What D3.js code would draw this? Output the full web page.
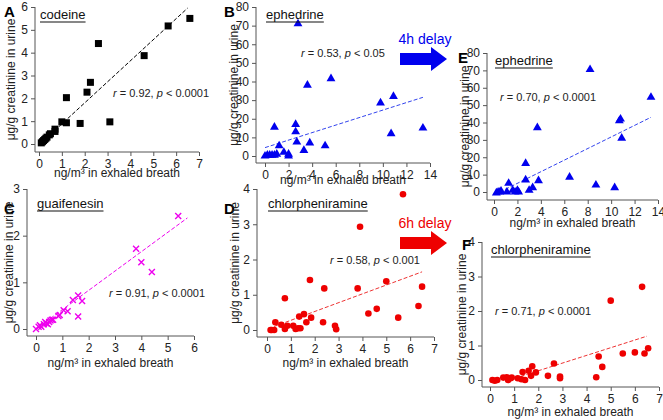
<!DOCTYPE html>
<html lang="en">
<head>
  <meta charset="UTF-8">
  <title>Exhaled breath vs urine</title>
  <script src="https://d3js.org/d3.v7.min.js"></script>
  <style>
    body { margin: 0; background: #fff; }
    text { font-family: "Liberation Sans", Arial, sans-serif; }
    .tick text { font-size: 12px; fill: #222; }
    .domain, .tick line { stroke: #555; }
  </style>
</head>
<body>
  <svg width="663" height="420"></svg>
  <script>
    // data: [x, y]
    const codeine = [[0.1,0.05],[0.15,0.1],[0.2,0.15],[0.25,0.2],[0.3,0.25],[0.35,0.3],[0.45,0.4],[0.5,0.45],
      [0.7,0.55],[0.7,0.65],[1.0,0.97],[1.2,0.93],[1.2,2.03],[1.8,0.9],[2.1,2.27],[2.25,2.7],[2.6,4.4],
      [3.1,0.97],[4.6,3.87],[5.65,5.17],[6.6,5.5]];
    const ephedrine4 = [[0,0],[0.2,0.5],[0.4,0.5],[0.6,0.5],[0.8,0.5],[1,1],[0.8,15.5],[1.2,5.5],[1.6,2],[2,1],
      [2,0],[2.6,17],[2.6,13],[2.7,7.5],[2.8,71],[3.3,3],[3.6,38],[3.8,7],[5.1,5.5],[5.6,41.5],[9.8,28.5],
      [10.7,12],[10.9,32],[13.4,15]];
    const ephedrineDelay = [[0.2,-0.5],[0.35,0],[0.5,0],[0.6,0.5],[1.1,0],[1.25,5],[1.6,1],[1.8,0],[2,1],[2.1,0],
      [2.7,16.5],[2.7,7],[3,1],[3.3,2.5],[3.7,37],[3.8,6.5],[6.45,8.5],[8.2,70.5],[8.7,4],[10.3,2.5],
      [10.7,41],[10.8,42],[10.9,31],[13.4,54.5]];
    const guaifenesin = [[0,0],[0.1,0.05],[0.15,0.08],[0.2,0.05],[0.3,0.1],[0.35,0.15],[0.4,0.12],[0.45,0.1],
      [0.5,0.15],[0.55,0.18],[0.6,0.2],[0.65,0.2],[0.85,0.28],[0.9,0.3],[1.05,0.4],[1.2,0.38],[1.4,0.62],
      [1.6,0.27],[1.6,0.72],[1.75,0.6],[3.8,1.72],[4.0,1.43],[4.4,1.22],[5.4,2.42]];
    const chlor6 = [[0.15,0],[0.2,0],[0.3,0],[0.35,0.22],[0.6,0.15],[0.75,0.03],[0.75,0.9],[0.85,0.12],[1.1,0.12],
      [1.2,0.03],[1.3,0.05],[1.35,0.38],[1.4,0.05],[1.55,0.45],[1.65,0.22],[1.8,1.42],[1.85,0.35],[2.35,0.22],
      [2.4,1.18],[2.85,0.12],[2.9,0.02],[3.8,1.18],[3.9,2.93],[4.25,0.47],[4.6,0.6],[5,1.38],[5.5,0.35],
      [6.35,0.68],[6.5,1.23],[5.7,3.85]];
    const chlorDelay = [[0.1,0],[0.2,-0.02],[0.3,0],[0.55,0.07],[0.7,0.08],[0.75,0],[0.85,0.05],[0.9,0.07],
      [1.15,0.05],[1.3,0.02],[1.35,0.23],[1.45,0],[1.6,0.27],[1.7,0.12],[1.75,0.4],[1.9,0.22],[2.4,0.12],
      [2.65,0.48],[2.9,0.1],[2.9,0.05],[4.4,0.08],[4.5,0.68],[4.65,0.38],[5,2.3],[5.5,0.77],[6,0.8],
      [6.3,2.7],[6.4,0.77],[6.55,0.92]];

    const svg = d3.select("svg");
    const ylab = "μg/g creatinine in urine", xlab = "ng/m³ in exhaled breath";

    const panels = [
      {letter:"A", name:"codeine", data:codeine, mark:"square", color:"#000", lc:"#000",
       x0:39, x1:199, xmax:7, xt:d3.range(0,8), yb:144, yt:7, ymax:6, yticks:d3.range(0,7),
       yax:35, xax:152, fit:[[0.1,0.05],[6.5,5.95]], r:"0.92", p:"0.0001", rx:113, ry:97, ya:5, xlY:177, lx:4, ly:17},
      {letter:"B", name:"ephedrine", data:ephedrine4, mark:"tri", color:"#0000ee", lc:"#3344ee",
       x0:265, x1:430, xmax:14, xt:d3.range(0,15,2), yb:156, yt:7, ymax:80, yticks:d3.range(0,81,10),
       yax:256, xax:163, fit:[[0,4.5],[13.4,31.5]], r:"0.53", p:"0.05", rx:301, ry:57, ya:228, xlY:184, lx:224, ly:17},
      {letter:"E", name:"ephedrine", data:ephedrineDelay, mark:"tri", color:"#0000ee", lc:"#3344ee",
       x0:494, x1:658, xmax:14, xt:d3.range(0,15,2), yb:192, yt:53, ymax:80, yticks:d3.range(0,81,10),
       yax:487, xax:200, fit:[[0.5,0],[13.4,43]], r:"0.70", p:"0.0001", rx:500, ry:101, ya:459, xlY:227, lx:458, ly:63},
      {letter:"C", name:"guaifenesin", data:guaifenesin, mark:"x", color:"#ee00ee", lc:"#ee00ee",
       x0:36, x1:194, xmax:6, xt:d3.range(0,7), yb:329, yt:189, ymax:3, yticks:d3.range(0,4),
       yax:27, xax:336, fit:[[0,0],[5.75,2.38]], r:"0.91", p:"0.0001", rx:109, ry:297, ya:3, xlY:367, lx:4, ly:214},
      {letter:"D", name:"chlorpheniramine", data:chlor6, mark:"dot", color:"#ee0000", lc:"#ee3333",
       x0:267, x1:434, xmax:7, xt:d3.range(0,8), yb:330, yt:189, ymax:4, yticks:d3.range(0,5),
       yax:257, xax:337, fit:[[0.3,0.1],[6.5,1.65]], r:"0.58", p:"0.001", rx:330, ry:264, ya:229, xlY:367, lx:224, ly:214},
      {letter:"F", name:"chlorpheniramine", data:chlorDelay, mark:"dot", color:"#ee0000", lc:"#ee3333",
       x0:490, x1:659, xmax:7, xt:d3.range(0,8), yb:380, yt:242, ymax:4, yticks:d3.range(0,5),
       yax:482, xax:387, fit:[[0.8,0],[6.5,1.27]], r:"0.71", p:"0.0001", rx:495, ry:315, ya:456, xlY:416, lx:462, ly:250}
    ];

    panels.forEach(P => {
      const x = d3.scaleLinear().domain([0, P.xmax]).range([P.x0, P.x1]);
      const y = d3.scaleLinear().domain([0, P.ymax]).range([P.yb, P.yt]);
      const g = svg.append("g");

      g.append("g").attr("transform", `translate(0,${P.xax})`)
        .call(d3.axisBottom(x).tickValues(P.xt).tickSize(4).tickSizeOuter(0).tickFormat(d3.format("d")))
        .call(a => a.select(".domain").attr("d", `M${P.yax},0H${P.x1}`));
      g.append("g").attr("transform", `translate(${P.yax},0)`)
        .call(d3.axisLeft(y).tickValues(P.yticks).tickSize(4).tickSizeOuter(0).tickFormat(d3.format("d")))
        .call(a => a.select(".domain").attr("d", `M0,${y(P.ymax)}V${P.xax}`));

      g.append("line")
        .attr("x1", x(P.fit[0][0])).attr("y1", y(P.fit[0][1]))
        .attr("x2", x(P.fit[1][0])).attr("y2", y(P.fit[1][1]))
        .attr("stroke", P.lc).attr("stroke-width", 1).attr("stroke-dasharray", "4,2");

      const pts = g.selectAll(".pt").data(P.data).join("g")
        .attr("transform", d => `translate(${x(d[0])},${y(d[1])})`);
      if (P.mark === "square") pts.append("rect").attr("x", -3.5).attr("y", -3.5).attr("width", 7).attr("height", 7).attr("fill", P.color);
      if (P.mark === "tri") pts.append("path").attr("d", d3.symbol(d3.symbolTriangle, 34)()).attr("fill", P.color);
      if (P.mark === "dot") pts.append("circle").attr("r", 3.3).attr("fill", P.color);
      if (P.mark === "x") pts.append("path").attr("d", "M-3,-3L3,3M-3,3L3,-3").attr("stroke", P.color).attr("stroke-width", 1.4);

      g.append("text").attr("x", P.lx).attr("y", P.ly).attr("font-size", 15).attr("font-weight", "bold").text(P.letter);
      const t = g.append("text").attr("x", P.x0 + 1).attr("y", y(P.ymax) + (P.letter === "C" || P.letter === "D" ? 19 : 12))
        .attr("font-size", 13).attr("fill", "#111").text(P.name);
      const w = t.node().getComputedTextLength();
      g.append("line").attr("x1", P.x0 + 1).attr("x2", P.x0 + 1 + w)
        .attr("y1", +t.attr("y") + 3).attr("y2", +t.attr("y") + 3).attr("stroke", "#111").attr("stroke-width", 1.2);

      const rt = g.append("text").attr("x", P.rx).attr("y", P.ry).attr("font-size", 11).attr("fill", "#222");
      rt.append("tspan").attr("font-style", "italic").text("r");
      rt.append("tspan").text(` = ${P.r}, `);
      rt.append("tspan").attr("font-style", "italic").text("p");
      rt.append("tspan").text(` < ${P.p}`);

      g.append("text").attr("transform", `translate(${P.ya + 10},${(P.yt + P.xax) / 2}) rotate(-90)`)
        .attr("text-anchor", "middle").attr("font-size", 12).attr("fill", "#222").text(ylab);
      g.append("text").attr("x", (P.yax + P.x1) / 2).attr("y", P.xlY).attr("text-anchor", "middle")
        .attr("font-size", 12).attr("fill", "#222").text(xlab);
    });

    // delay arrows
    const arrows = [{label:"4h delay", color:"#0000ee", y:59, ty:44}, {label:"6h delay", color:"#ee0000", y:243, ty:228}];
    arrows.forEach(a => {
      svg.append("path").attr("d", `M400,${a.y-6}H431V${a.y-12}L447,${a.y}L431,${a.y+12}V${a.y+6}H400Z`).attr("fill", a.color);
      svg.append("text").attr("x", 425).attr("y", a.ty).attr("text-anchor", "middle").attr("font-size", 14)
        .attr("fill", a.color).text(a.label);
    });
  </script>
</body>
</html>
